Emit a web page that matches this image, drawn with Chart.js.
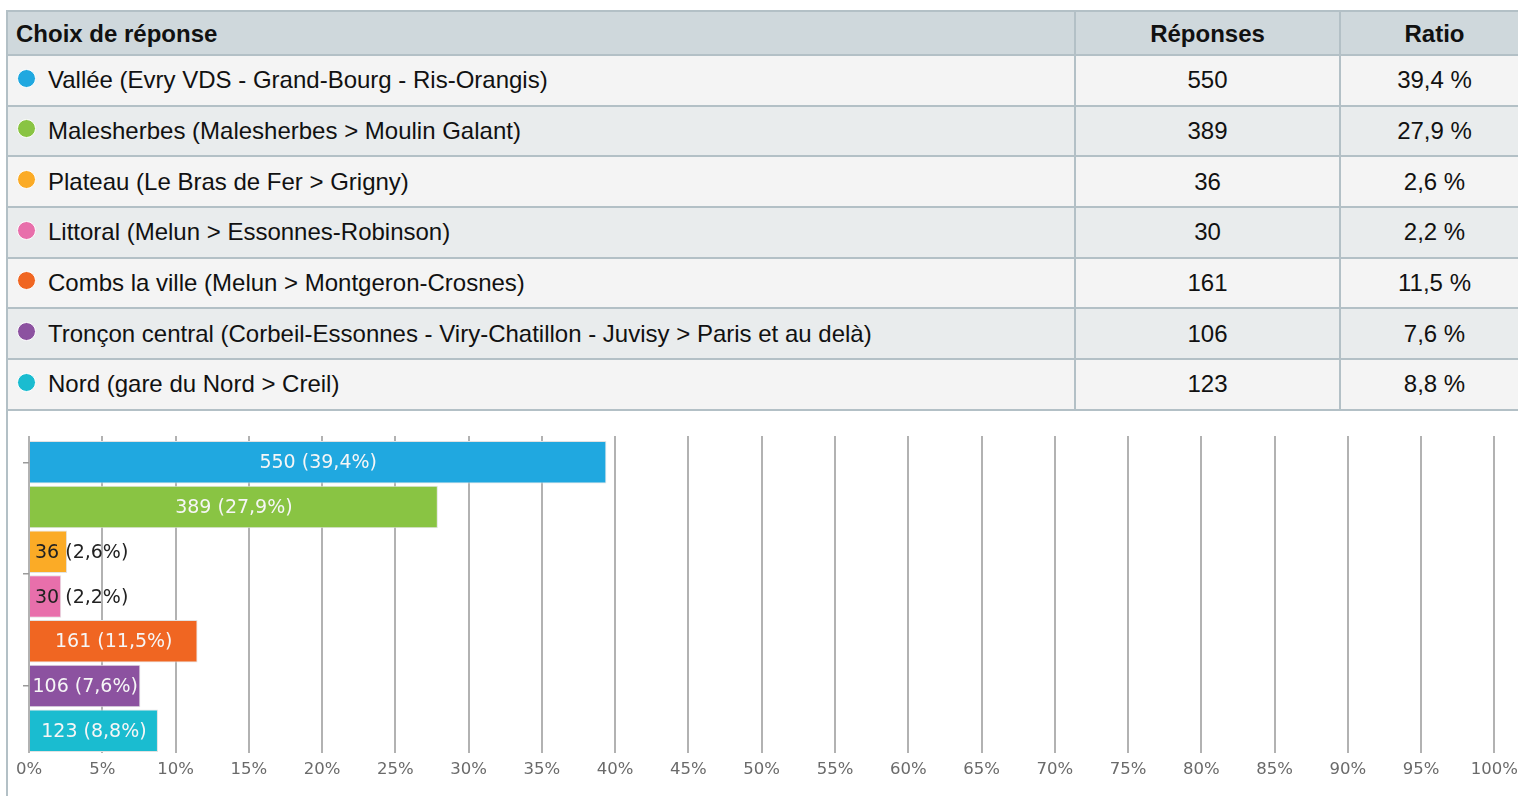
<!DOCTYPE html>
<html>
<head>
<meta charset="utf-8">
<script src="https://cdn.jsdelivr.net/npm/chart.js@4.4.0/dist/chart.umd.min.js"></script>
<style>
    html, body { margin: 0; padding: 0; background: #fff; overflow: hidden; }
    body { width: 1518px; height: 796px; position: relative; font-family: "Liberation Sans", Arial, sans-serif; color: #111; }
    #tbl { position: absolute; left: 6px; top: 10px; width: 1522px; border-collapse: separate; border-spacing: 0;
           table-layout: fixed; border-top: 2px solid #b3c0c6; border-left: 2px solid #b3c0c6; }
    #tbl th, #tbl td { padding: 0; border-bottom: 2px solid #b3c0c6; font-size: 24px; white-space: nowrap; }
    #tbl th + th, #tbl td + td { border-left: 2px solid #b3c0c6; }
    #tbl th { background: #cfd8dc; font-weight: bold; padding-top: 2px; height: 40px; }
    #tbl th:first-child { text-align: left; padding-left: 8px; }
    #tbl td { height: 48.7px; text-align: center; }
    #tbl td:first-child { text-align: left; padding-left: 9px; }
    #tbl tbody tr:nth-child(odd) td { background: #f4f4f4; }
    #tbl tbody tr:nth-child(even) td { background: #e9eced; }
    .dot { display: inline-block; width: 19px; height: 19px; border-radius: 50%; box-sizing: border-box;
           border: 1px solid #fff; margin-right: 12px; position: relative; top: -4px; vertical-align: middle; }
    #leftline { position: absolute; left: 6px; top: 410px; width: 2px; height: 386px; background: #b3c0c6; }
    #chartbox { position: absolute; left: 8px; top: 411px; width: 1510px; height: 385px; }
</style>
</head>
<body>
<table id="tbl">
    <colgroup><col style="width:1066px"><col style="width:265px"><col style="width:189px"></colgroup>
    <thead><tr><th>Choix de réponse</th><th>Réponses</th><th>Ratio</th></tr></thead>
    <tbody id="rows"></tbody>
</table>
<div id="leftline"></div>
<div id="chartbox"><canvas id="chart"></canvas></div>
<script>
    // données
    const choices = [
        'Vallée (Evry VDS - Grand-Bourg - Ris-Orangis)',
        'Malesherbes (Malesherbes > Moulin Galant)',
        'Plateau (Le Bras de Fer > Grigny)',
        'Littoral (Melun > Essonnes-Robinson)',
        'Combs la ville (Melun > Montgeron-Crosnes)',
        'Tronçon central (Corbeil-Essonnes - Viry-Chatillon - Juvisy > Paris et au delà)',
        'Nord (gare du Nord > Creil)'
    ];
    const responses = [550, 389, 36, 30, 161, 106, 123];
    const ratios    = [39.4, 27.9, 2.6, 2.2, 11.5, 7.6, 8.8];
    const colors    = ['#20a8e0', '#89c443', '#fbab26', '#e86fab', '#f06622', '#8c52a0', '#1abcd0'];
    const xTicks    = [0, 5, 10, 15, 20, 25, 30, 35, 40, 45, 50, 55, 60, 65, 70, 75, 80, 85, 90, 95, 100];
    const yTicks    = [0, 2.5, 5];   // petits traits à gauche

    const fr = (v) => v.toFixed(1).replace('.', ',');

    // tableau
    const tbody = document.getElementById('rows');
    choices.forEach((c, i) => {
        const tr = document.createElement('tr');
        tr.innerHTML = `<td><span class="dot" style="background:${colors[i]}"></span>${c}</td>` +
                       `<td>${responses[i]}</td><td>${fr(ratios[i])} %</td>`;
        tbody.appendChild(tr);
    });

    // étiquettes dans les barres
    const barLabels = {
        id: 'barLabels',
        afterDatasetsDraw(chart) {
            const ctx = chart.ctx;
            const meta = chart.getDatasetMeta(0);
            ctx.save();
            ctx.font = '19px "DejaVu Sans"';
            ctx.textBaseline = 'middle';
            meta.data.forEach((bar, i) => {
                const txt = `${responses[i]} (${fr(ratios[i])}%)`;
                const w = ctx.measureText(txt).width;
                const bw = bar.x - bar.base;
                if (w <= bw + 4) {
                    ctx.fillStyle = '#f6f6f6';
                    ctx.textAlign = 'center';
                    ctx.fillText(txt, bar.base + bw / 2, bar.y + 1);
                } else {
                    ctx.fillStyle = '#222';
                    ctx.textAlign = 'left';
                    ctx.fillText(txt, bar.base + 5, bar.y + 1);
                }
            });
            ctx.restore();
        }
    };

    new Chart(document.getElementById('chart'), {
        type: 'bar',
        data: {
            labels: choices,
            datasets: [{
                data: ratios,
                backgroundColor: colors,
                borderColor: '#e2e2e2',
                borderWidth: 1,
                barPercentage: 0.95,
                categoryPercentage: 1
            }]
        },
        options: {
            indexAxis: 'y',
            responsive: true,
            maintainAspectRatio: false,
            animation: false,
            layout: { padding: { left: 15, right: 0, top: 25, bottom: 16 } },
            plugins: { legend: { display: false }, tooltip: { enabled: false } },
            scales: {
                x: {
                    min: 0, max: 100,
                    afterBuildTicks: (s) => { s.ticks = xTicks.map(v => ({ value: v })); },
                    grid: { color: '#b2b2b2', lineWidth: 2, drawTicks: true, tickLength: 7, tickColor: 'rgba(0,0,0,0)' },
                    border: { display: false },
                    ticks: {
                        autoSkip: false, maxRotation: 0, padding: 0,
                        color: '#6a6a6a', font: { family: 'DejaVu Sans', size: 16.5 },
                        callback: (v) => v + '%'
                    }
                },
                x2: {
                    type: 'linear', position: 'top', min: 0, max: 100,
                    afterBuildTicks: (s) => { s.ticks = xTicks.map(v => ({ value: v })); },
                    grid: { drawOnChartArea: false, tickLength: 4, color: '#b2b2b2', lineWidth: 2 },
                    border: { display: false },
                    ticks: { display: false }
                },
                y: { display: false },
                y2: {
                    type: 'linear', position: 'left', min: -0.5, max: 6.5, reverse: true, offset: false,
                    afterBuildTicks: (s) => { s.ticks = yTicks.map(v => ({ value: v })); },
                    grid: { drawOnChartArea: false, offset: false, tickLength: 6, color: '#9a9a9a', lineWidth: 1.5 },
                    border: { display: false },
                    ticks: { display: false }
                }
            }
        },
        plugins: [barLabels]
    });
</script>
</body>
</html>
